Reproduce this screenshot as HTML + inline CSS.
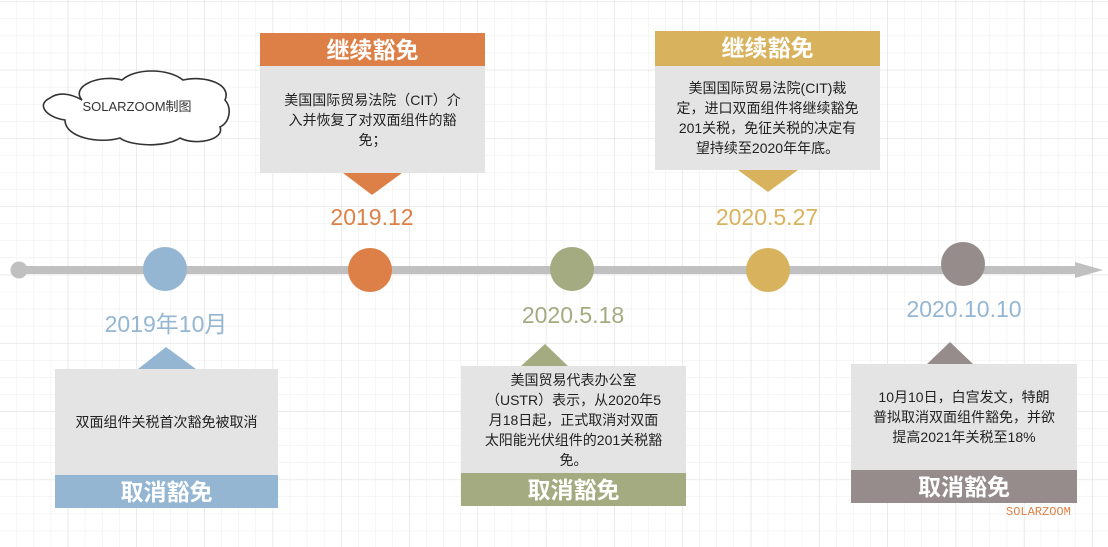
<!DOCTYPE html>
<html><head><meta charset="utf-8"><style>
body{margin:0;width:1108px;height:547px;overflow:hidden;position:relative;background:#fff;font-family:"Liberation Sans","Noto Sans CJK SC",sans-serif;}
.a{position:absolute}
.hd{position:absolute;color:#fff;font-weight:bold;font-size:23px;text-align:center;line-height:34px}
.bd{position:absolute;background:#e4e4e4;color:#222;font-size:14px;line-height:20px;text-align:center;display:flex;align-items:center;justify-content:center;box-sizing:border-box;padding:0 4px;white-space:nowrap}
.dt{position:absolute;font-size:23px;text-align:center;width:200px}
.c{position:absolute;width:44px;height:44px;border-radius:50%}
</style></head><body>
<svg class="a" style="left:0;top:0" width="1108" height="547">
<defs>
<pattern id="g1" width="17.07" height="17.07" patternUnits="userSpaceOnUse" x="0" y="2"><path d="M17.07 0V17.07M0 17.07H17.07" stroke="#ececec" stroke-width="1" fill="none"/></pattern>
<pattern id="g2" width="68.3" height="68.3" patternUnits="userSpaceOnUse" x="0" y="2"><path d="M68.3 0V68.3M0 68.3H68.3" stroke="#dedede" stroke-width="1" fill="none"/></pattern>
</defs>
<rect width="1108" height="547" fill="url(#g1)"/>
<rect width="1108" height="547" fill="url(#g2)"/>
<path d="M82 100 C70 86 100 74 122 80 C135 68 168 68 183 80 C205 75 232 84 225 100 C232 108 230 122 220 127 C225 140 195 146 180 138 C165 148 130 146 120 138 C100 144 65 138 65 120 C48 118 35 105 50 98 C58 92 70 93 82 100Z" fill="#fff" stroke="#333" stroke-width="1.6"/>
<text x="137" y="111" font-size="13" fill="#333" text-anchor="middle" font-family="Liberation Sans,Noto Sans CJK SC,sans-serif">SOLARZOOM制图</text>
<line x1="19" y1="270" x2="1080" y2="270" stroke="#c0c0c0" stroke-width="8"/>
<circle cx="19" cy="270" r="8.5" fill="#c0c0c0"/>
<polygon points="1075,262 1103,270 1075,278" fill="#c0c0c0"/>
<polygon points="343,173 402,173 372,195" fill="#dd8047"/>
<polygon points="738,170 798,170 768,192" fill="#d8b25c"/>
<polygon points="138,369 196,369 166,347" fill="#94b6d2"/>
<polygon points="521,366 568,366 545,344" fill="#a5ab81"/>
<polygon points="927,364 973,364 950,342" fill="#968c8c"/>
</svg>
<div class="c" style="left:143px;top:247px;background:#94b6d2"></div>
<div class="c" style="left:348px;top:248px;background:#dd8047"></div>
<div class="c" style="left:550px;top:247px;background:#a5ab81"></div>
<div class="c" style="left:746px;top:248px;background:#d8b25c"></div>
<div class="c" style="left:941px;top:242px;background:#968c8c"></div>

<div class="hd" style="left:260px;top:33px;width:225px;height:33px;background:#dd8047">继续豁免</div>
<div class="bd" style="left:260px;top:66px;width:225px;height:107px">美国国际贸易法院（CIT）介<br>入并恢复了对双面组件的豁<br>免；</div>
<div class="dt" style="left:272px;top:204px;color:#dd8047">2019.12</div>

<div class="hd" style="left:655px;top:31px;width:225px;height:35px;background:#d8b25c">继续豁免</div>
<div class="bd" style="left:655px;top:66px;width:225px;height:104px">美国国际贸易法院(CIT)裁<br>定，进口双面组件将继续豁免<br>201关税，免征关税的决定有<br>望持续至2020年年底。</div>
<div class="dt" style="left:667px;top:204px;color:#d8b25c">2020.5.27</div>

<div class="dt" style="left:66px;top:305px;color:#94b6d2">2019年10月</div>
<div class="bd" style="left:55px;top:369px;width:223px;height:106px">双面组件关税首次豁免被取消</div>
<div class="hd" style="left:55px;top:475px;width:223px;height:33px;background:#94b6d2">取消豁免</div>

<div class="dt" style="left:473px;top:302px;color:#a5ab81">2020.5.18</div>
<div class="bd" style="left:461px;top:366px;width:225px;height:107px">美国贸易代表办公室<br>（USTR）表示，从2020年5<br>月18日起，正式取消对双面<br>太阳能光伏组件的201关税豁<br>免。</div>
<div class="hd" style="left:461px;top:473px;width:225px;height:33px;background:#a5ab81">取消豁免</div>

<div class="dt" style="left:864px;top:296px;color:#94b6d2">2020.10.10</div>
<div class="bd" style="left:851px;top:364px;width:226px;height:106px">10月10日，白宫发文，特朗<br>普拟取消双面组件豁免，并欲<br>提高2021年关税至18%</div>
<div class="hd" style="left:851px;top:470px;width:226px;height:33px;background:#968c8c">取消豁免</div>

<div class="a" style="left:1006px;top:505px;font-family:'Liberation Mono',monospace;font-size:12px;color:#dd8047">SOLARZOOM</div>
</body></html>
